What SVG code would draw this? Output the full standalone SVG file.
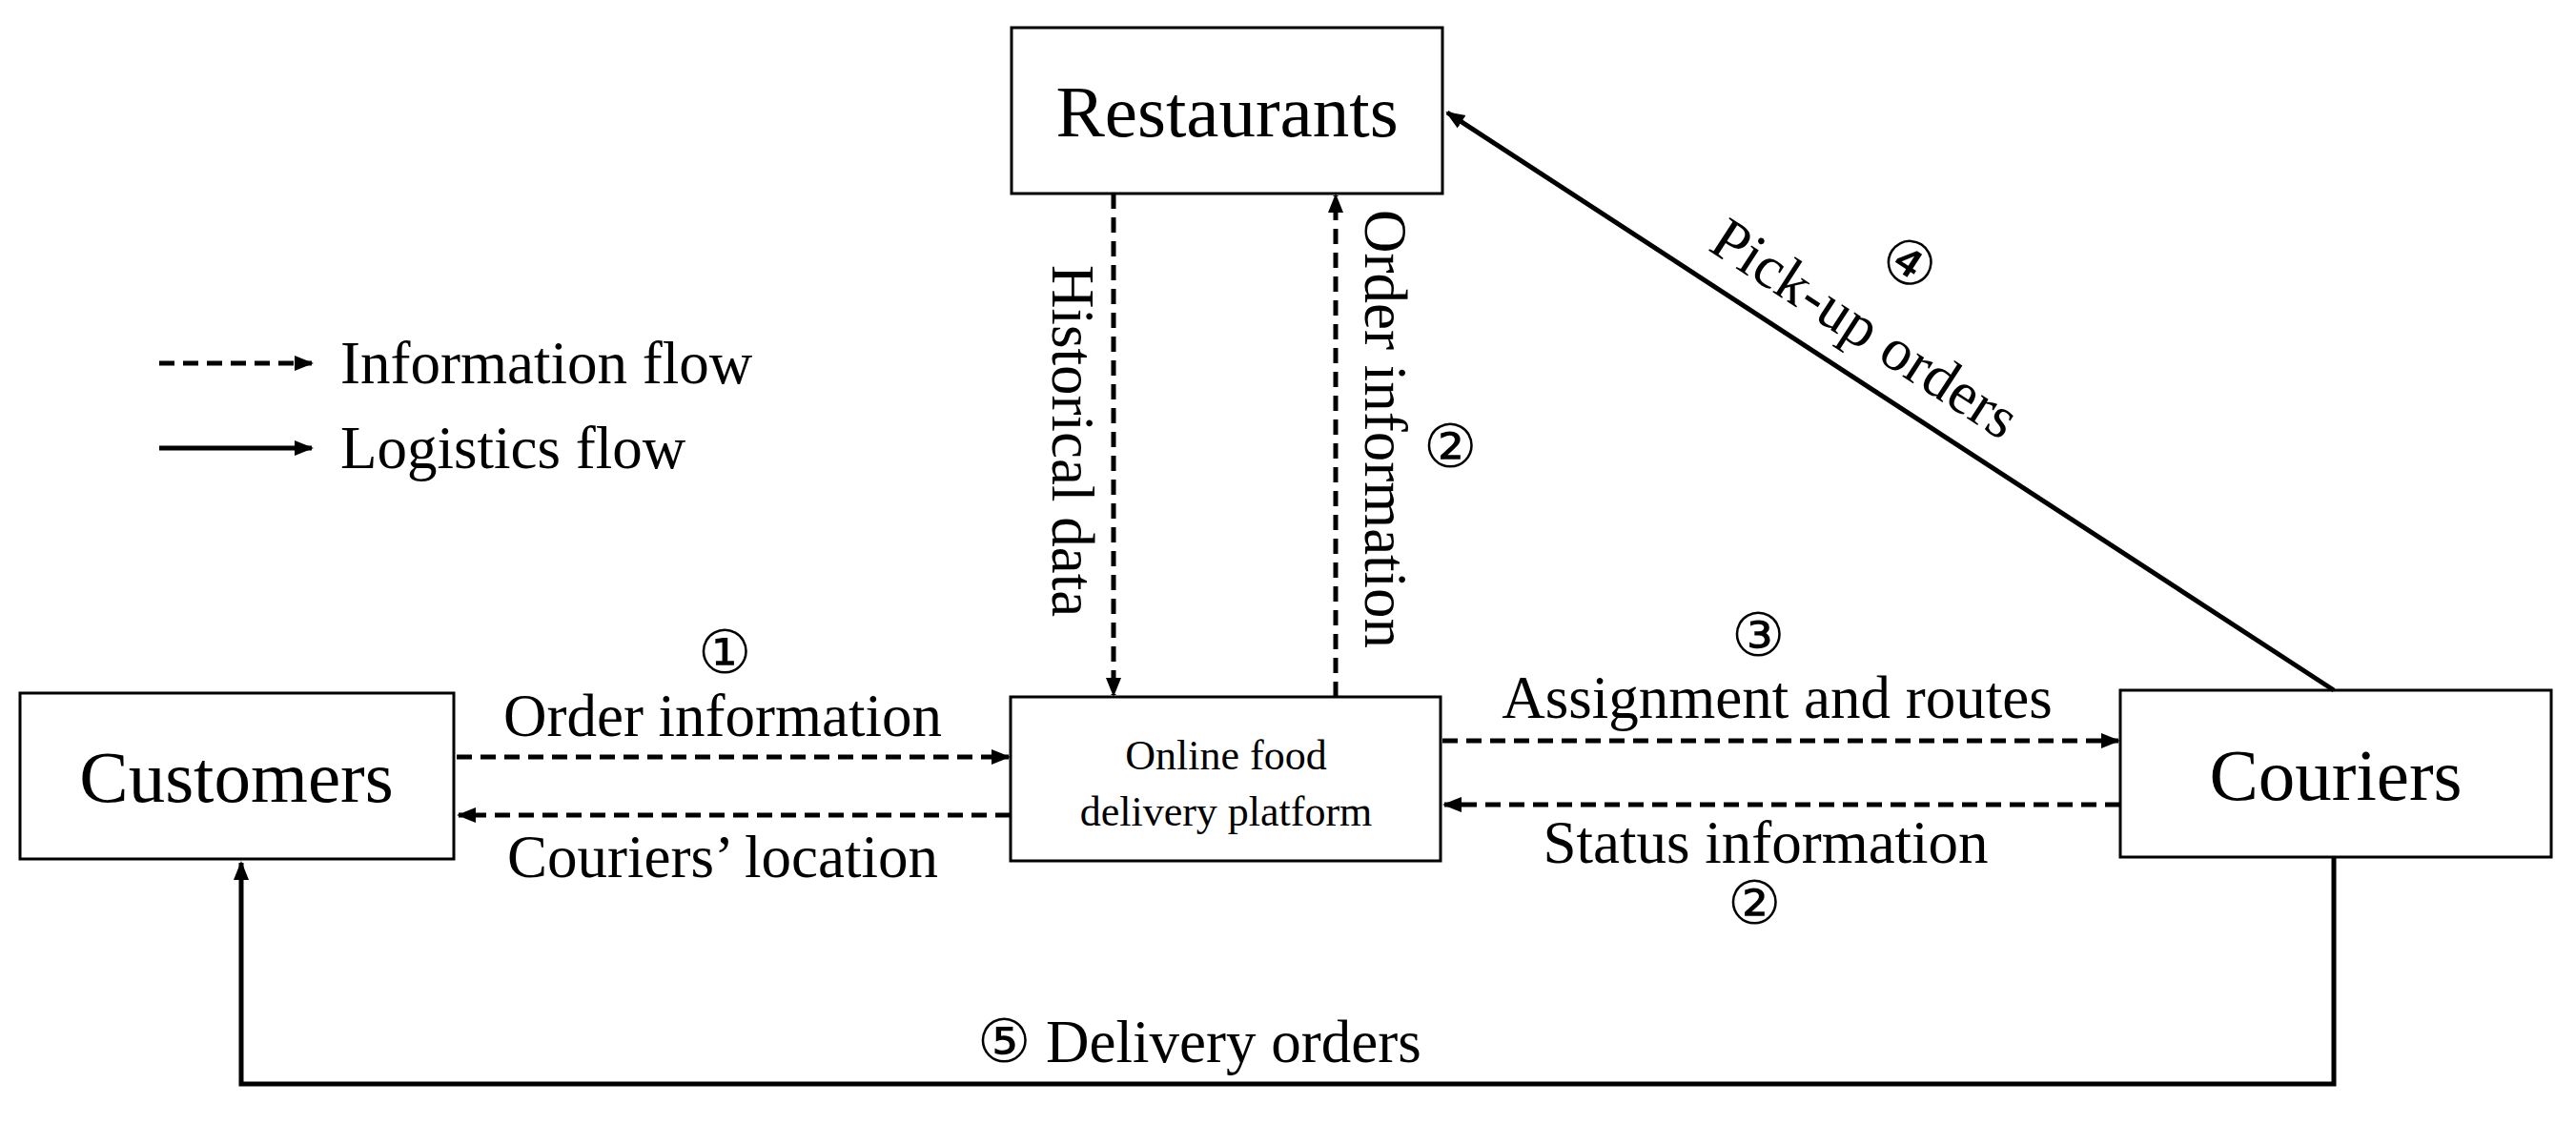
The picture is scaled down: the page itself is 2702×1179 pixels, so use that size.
<svg xmlns="http://www.w3.org/2000/svg" width="2702" height="1179" viewBox="0 0 2702 1179">
<style>
text{font-family:"Liberation Serif","Times New Roman",serif;fill:#000}
.box{fill:#fff;stroke:#000;stroke-width:3}
.big{font-size:77px}
.lbl{font-size:63px}
.dash{fill:none;stroke:#000;stroke-width:5;stroke-dasharray:16,9}
.solid{fill:none;stroke:#000;stroke-width:5}
</style>
<defs><marker id="ah" viewBox="0 0 10 10" refX="9" refY="5" markerWidth="4" markerHeight="4" orient="auto"><path d="M0,1 L10,5 L0,9 Z" fill="#000"/></marker></defs>
<rect width="2702" height="1179" fill="#fff"/>
<g id="restaurants"><rect class="box" x="1061" y="29" width="452" height="174"/><text class="big" x="1287" y="143" text-anchor="middle">Restaurants</text></g>
<g id="customers"><rect class="box" x="21" y="727" width="455" height="174"/><text class="big" x="248" y="841" text-anchor="middle">Customers</text></g>
<g id="platform"><rect class="box" x="1060" y="731" width="451" height="172"/><text x="1286" y="807" font-size="44" text-anchor="middle">Online food</text><text x="1286" y="866" font-size="44" text-anchor="middle">delivery platform</text></g>
<g id="couriers"><rect class="box" x="2224" y="724" width="452" height="175"/><text class="big" x="2450" y="839" text-anchor="middle">Couriers</text></g>
<g id="legend">
<line class="dash" x1="167" y1="381" x2="327" y2="381" marker-end="url(#ah)"/><text class="lbl" x="357" y="402">Information flow</text>
<line class="solid" x1="167" y1="470" x2="327" y2="470" marker-end="url(#ah)"/><text class="lbl" x="357" y="491">Logistics flow</text>
</g>
<g id="connectors">
<line class="dash" x1="1168" y1="203" x2="1168" y2="729" marker-end="url(#ah)"/>
<line class="dash" x1="1401" y1="731" x2="1401" y2="205" marker-end="url(#ah)"/>
<line class="dash" x1="479" y1="794" x2="1058" y2="794" marker-end="url(#ah)"/>
<line class="dash" x1="1060" y1="855" x2="481" y2="855" marker-end="url(#ah)"/>
<line class="dash" x1="1513" y1="777" x2="2222" y2="777" marker-end="url(#ah)"/>
<line class="dash" x1="2224" y1="844" x2="1515" y2="844" marker-end="url(#ah)"/>
<line class="solid" x1="2448" y1="724" x2="1518" y2="118" marker-end="url(#ah)"/>
<polyline class="solid" points="2448,899 2448,1137 253,1137 253,905" marker-end="url(#ah)"/>
</g>
<g id="labels">
<text class="lbl" transform="translate(1104,278) rotate(90)">Historical data</text>
<text class="lbl" transform="translate(1432,220) rotate(90)">Order information</text>
<text class="lbl" x="1521" y="490" text-anchor="middle">②</text>
<text class="lbl" x="760" y="706" text-anchor="middle">①</text>
<text class="lbl" x="758" y="772" text-anchor="middle">Order information</text>
<text class="lbl" x="758" y="920" text-anchor="middle">Couriers’ location</text>
<text class="lbl" x="1844" y="688" text-anchor="middle">③</text>
<text class="lbl" x="1864" y="753" text-anchor="middle">Assignment and routes</text>
<text class="lbl" x="1852" y="905" text-anchor="middle">Status information</text>
<text class="lbl" x="1840" y="969" text-anchor="middle">②</text>
<text class="lbl" transform="translate(1990,294) rotate(33)" text-anchor="middle">④</text>
<text class="lbl" transform="translate(1945,362) rotate(33)" text-anchor="middle">Pick-up orders</text>
<text class="lbl" x="1258" y="1114" text-anchor="middle">⑤  Delivery orders</text>
</g>
</svg>
